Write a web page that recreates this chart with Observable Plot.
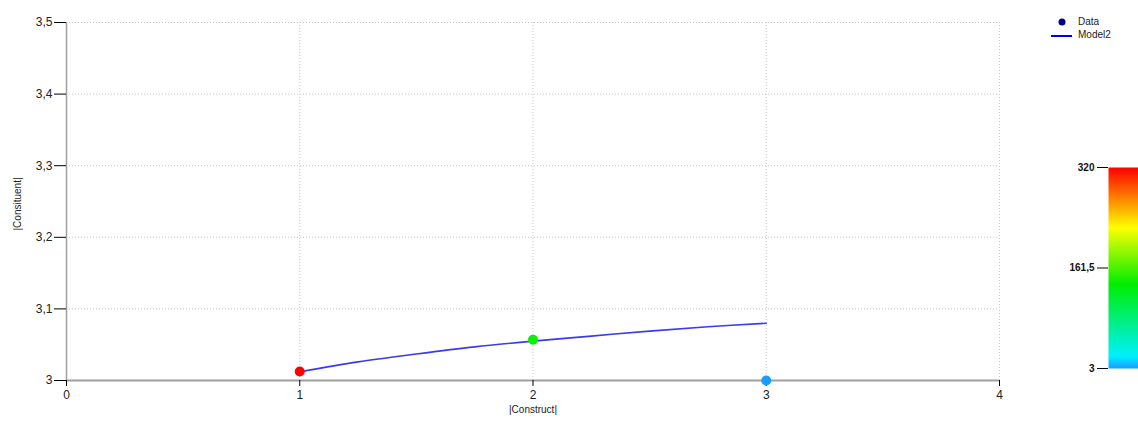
<!DOCTYPE html>
<html>
<head>
<meta charset="utf-8">
<script src="https://cdn.jsdelivr.net/npm/d3@7"></script>
<script src="https://cdn.jsdelivr.net/npm/@observablehq/plot@0.6"></script>
<style>
  html, body { margin: 0; padding: 0; background: #fff; overflow: hidden; }
  #wrap { position: relative; width: 1138px; height: 421px; font-family: "Liberation Sans", "DejaVu Sans", sans-serif; }
  #main, #cbar { position: absolute; top: 0; }
  #main { left: 0; }
  #cbar { left: 1048px; }
  #legend { position: absolute; left: 1050px; top: 15px; font-size: 10px; color: #222; line-height: 13px; }
  #legend div { display: flex; align-items: center; height: 13px; }
  #legend svg { margin-right: 6px; }
</style>
</head>
<body>
<div id="wrap">
  <div id="main"></div>
  <div id="cbar"></div>
  <div id="legend">
    <div><svg width="22" height="13"><circle cx="12" cy="7" r="3.5" fill="#00008b"></circle></svg><span>Data</span></div>
    <div><svg width="22" height="13"><line x1="1" x2="22" y1="8" y2="8" stroke="#0000ee" stroke-width="2"></line></svg><span>Model2</span></div>
  </div>
</div>
<script>
// ---- data ----
const constructs = [1, 2, 3];
const constituents = [3.0125, 3.057, 3.0];
const colorValues = [320, 140, 3];

const modelX = [1, 1.25, 1.5, 1.75, 2, 2.25, 2.5, 2.75, 3];
const modelY = [3.012, 3.026, 3.037, 3.047, 3.055, 3.062, 3.069, 3.075, 3.080];

const xTicks = [0, 1, 2, 3, 4];
const yTicks = [3, 3.1, 3.2, 3.3, 3.4, 3.5];
const colorTicks = [3, 161.5, 320];

const colorStops = [3, 22, 136, 225, 320];
const colorRange = ["#1a9cff", "#00f0ff", "#00ee00", "#ffff00", "#ff0000"];

// ---- derived tables ----
const points = constructs.map((c, i) => ({x: c, y: constituents[i], v: colorValues[i]}));
const model = modelX.map((x, i) => ({x, y: modelY[i]}));

const comma = d => String(d).replace(".", ",");
const colorScale = {type: "linear", domain: colorStops, range: colorRange, interpolate: "rgb"};

const main = Plot.plot({
  width: 1138,
  height: 421,
  marginLeft: 66,
  marginRight: 139,
  marginTop: 22,
  marginBottom: 41,
  style: {fontFamily: "Liberation Sans, DejaVu Sans, sans-serif", background: "transparent"},
  x: {domain: [0, 4], ticks: xTicks, label: null},
  y: {domain: [3, 3.5], ticks: yTicks, label: null},
  color: colorScale,
  marks: [
    Plot.gridX(xTicks.filter(d => d > 0), {stroke: "#c8c8c8", strokeOpacity: 1, strokeDasharray: "1,2"}),
    Plot.gridY(yTicks.filter(d => d > 3), {stroke: "#c8c8c8", strokeOpacity: 1, strokeDasharray: "1,2"}),
    Plot.ruleX([0], {stroke: "#a0a0a0", strokeWidth: 1.5}),
    Plot.ruleY([3], {stroke: "#a0a0a0", strokeWidth: 2}),
    Plot.axisX({ticks: xTicks, tickFormat: comma, tickSize: 6, tickPadding: 4, fontSize: 12, fill: "#222", stroke: "#000", label: null}),
    Plot.axisY({ticks: yTicks, tickFormat: comma, tickSize: 12, tickPadding: 2, fontSize: 12, fill: "#222", stroke: "#000", label: null}),
    Plot.text(["|Construct|"], {frameAnchor: "bottom", dy: 32, fontSize: 10, fill: "#222"}),
    Plot.text(["|Consituent|"], {frameAnchor: "left", dx: -49, dy: 29, rotate: -90, fontSize: 10, fill: "#222"}),
    Plot.line(model, {x: "x", y: "y", stroke: "#3a3aee", strokeWidth: 1.6, curve: "catmull-rom"}),
    Plot.dot(points, {x: "x", y: "y", r: 5, fill: "v", stroke: "none"})
  ]
});
document.getElementById("main").append(main);

const cbar = Plot.plot({
  width: 90,
  height: 421,
  marginLeft: 60,
  marginRight: 0,
  marginTop: 167,
  marginBottom: 53,
  style: {fontFamily: "Liberation Sans, DejaVu Sans, sans-serif", background: "transparent"},
  x: {domain: [0, 1], axis: null},
  y: {domain: [3, 320], ticks: colorTicks, label: null},
  color: colorScale,
  marks: [
    Plot.raster({x1: 0, x2: 1, y1: 3, y2: 320, width: 1, height: 200, fill: (x, y) => y, imageRendering: "auto"}),
    Plot.axisY({ticks: colorTicks, tickFormat: comma, tickSize: 11, tickPadding: 3, fontSize: 10, fontWeight: "bold", fill: "#111", stroke: "#000", label: null})
  ]
});
document.getElementById("cbar").append(cbar);
</script>
</body>
</html>
